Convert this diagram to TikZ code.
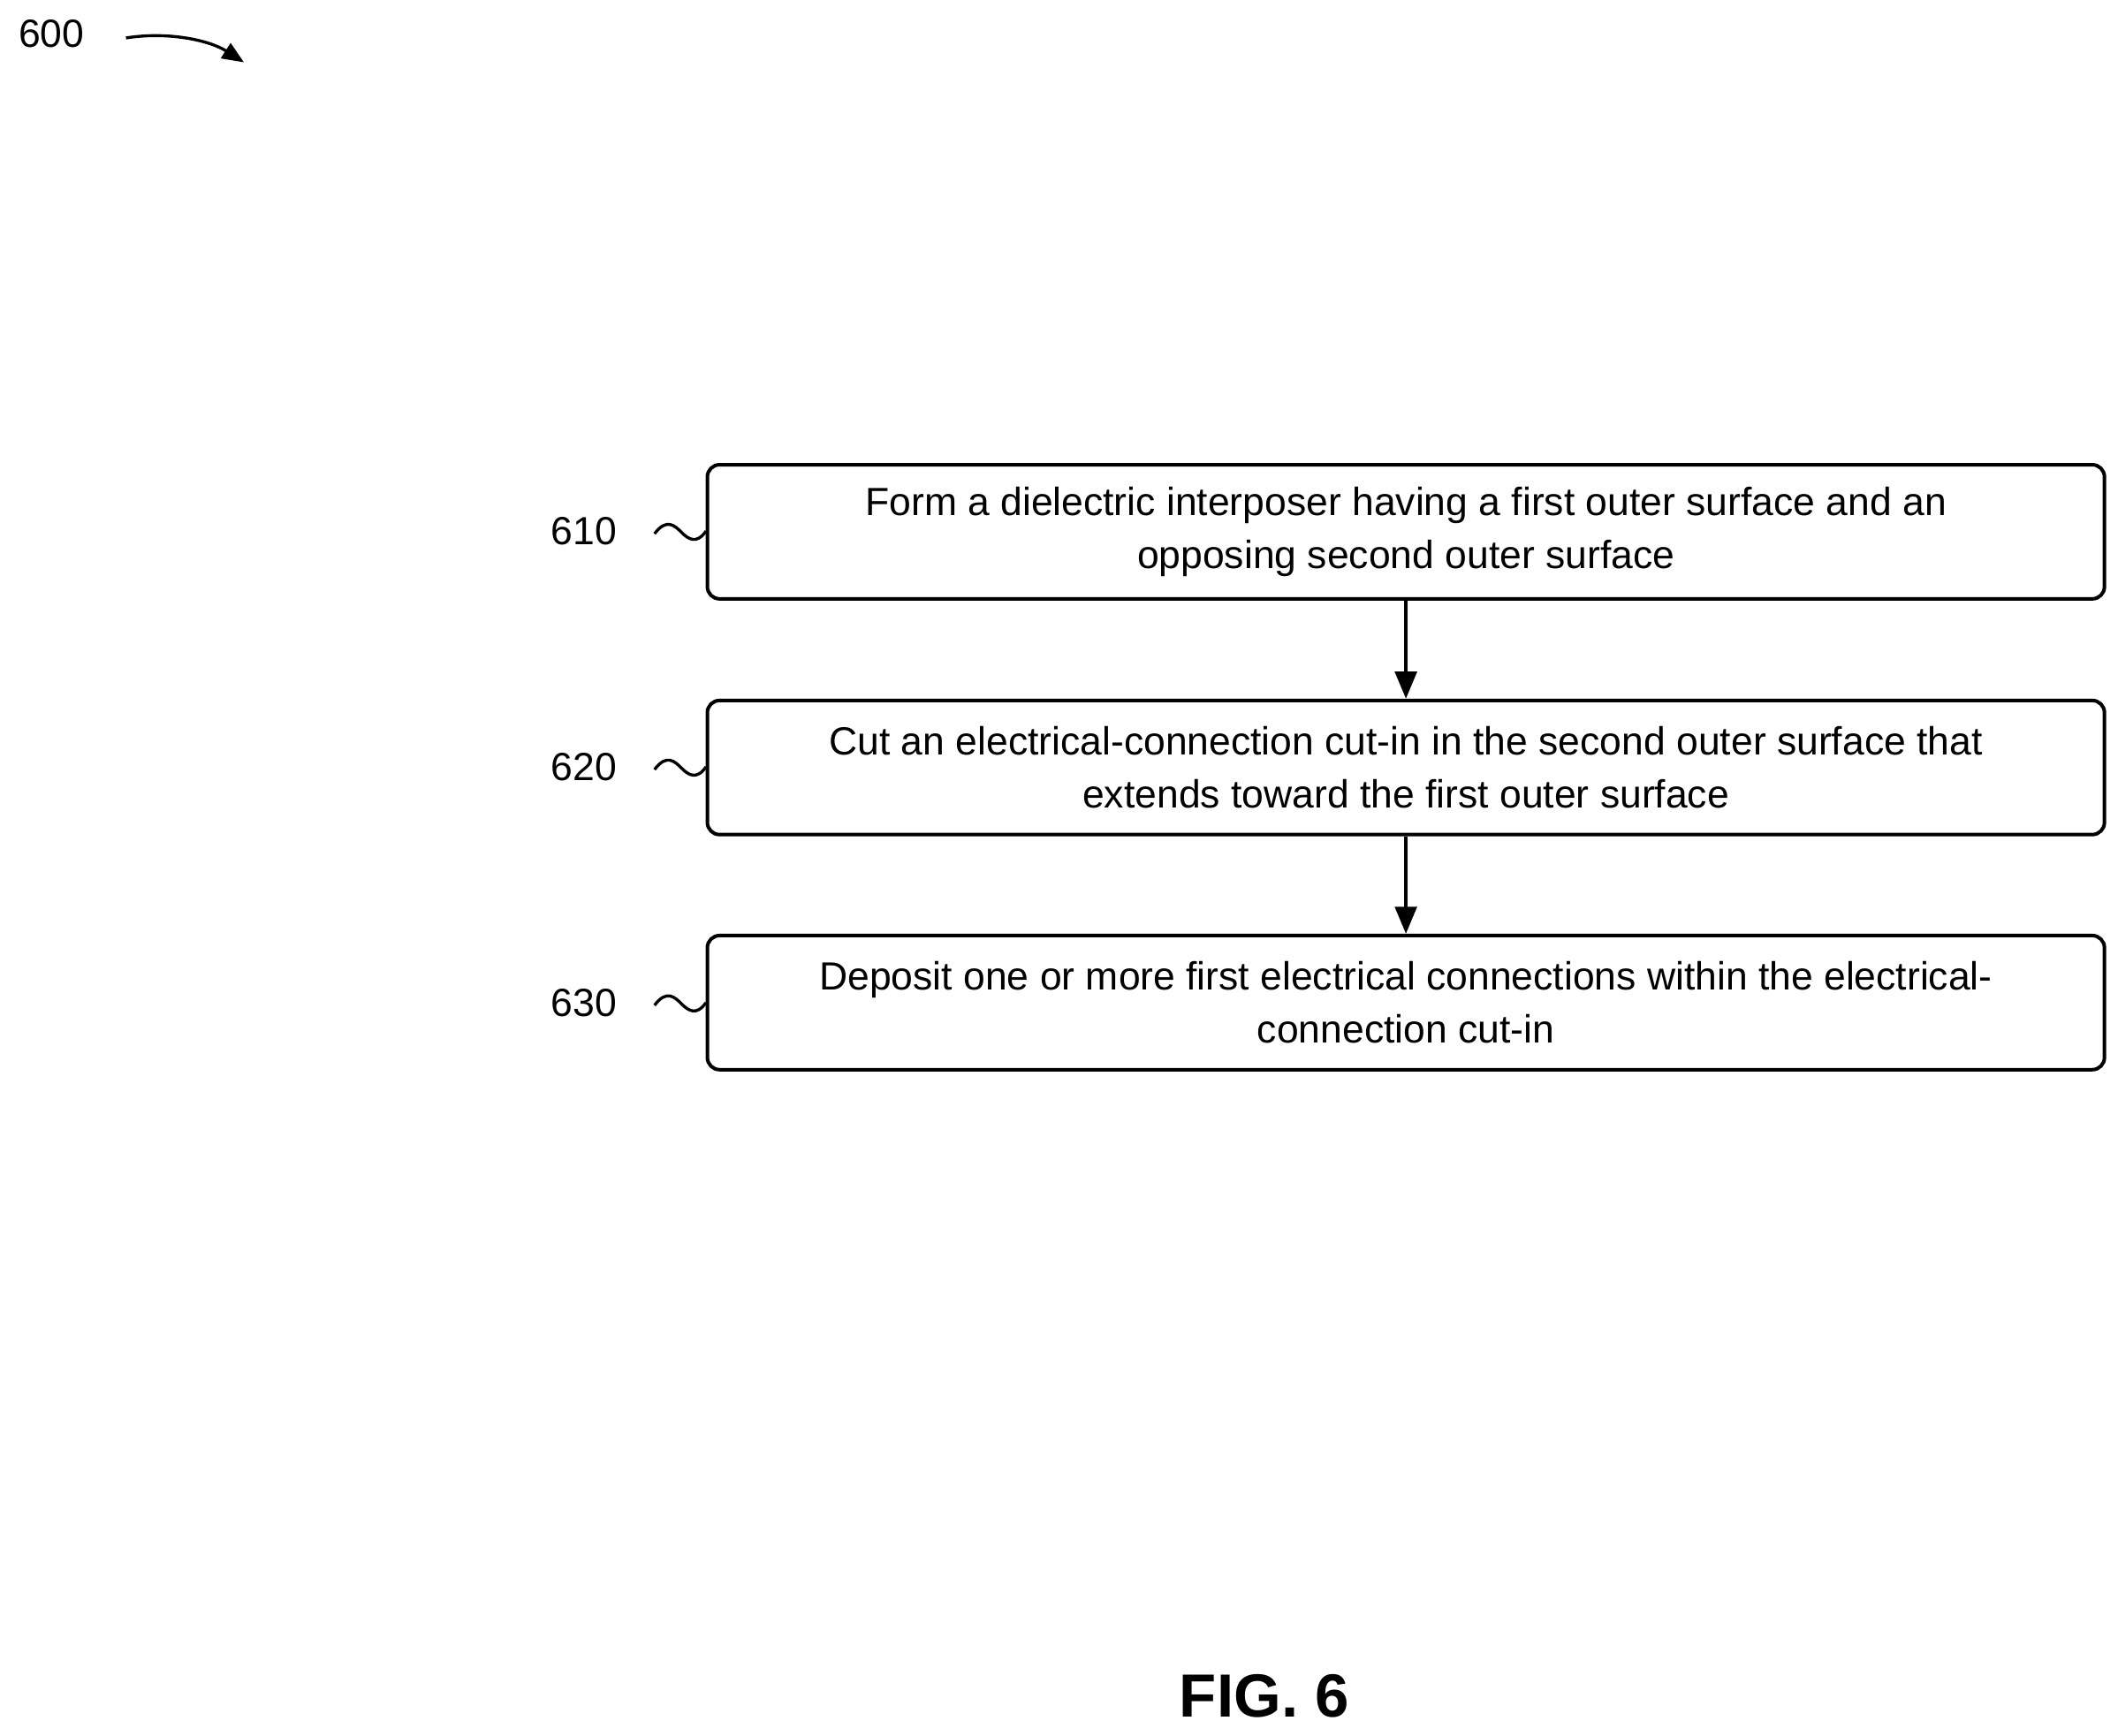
\documentclass[tikz,border=0pt]{standalone}
\usepackage{fontspec}
\setmainfont{Liberation Sans}
\usetikzlibrary{arrows.meta}
\begin{document}
\begin{tikzpicture}[x=1pt,y=-1pt,
  box/.style={draw,line width=2.6pt,rounded corners=9pt,minimum width=1031pt,minimum height=99pt,align=center,font=\fontsize{29}{39}\selectfont,inner sep=0pt},
  lab/.style={font=\fontsize{29}{34}\selectfont},
  arr/.style={line width=2.6pt,-{Triangle[length=20pt,width=16pt]}}]
\useasboundingbox (0,0) rectangle (1563,1281);
\node[box] (b1) at (1037.5,392.5) {Form a dielectric interposer having a first outer surface and an\\opposing second outer surface};
\node[box] (b2) at (1037.5,566.5) {Cut an electrical-connection cut-in in the second outer surface that\\extends toward the first outer surface};
\node[box] (b3) at (1037.5,740) {Deposit one or more first electrical connections within the electrical-\\connection cut-in};
\draw[arr] (b1) -- (b2);
\draw[arr] (b2) -- (b3);
\foreach \n/\t/\y in {l1/610/392,l2/620/566,l3/630/740}{
  \node[lab] (\n) at (431,\y) {\t};
  \draw[line width=2.2pt] (483,\y+2) .. controls (492,\y-10) and (498,\y-4) .. (503,\y+1) .. controls (508,\y+6) and (514,\y+10) .. (521,\y);
}
\node[lab] (n600) at (38,25) {600};
\coordinate (a0) at (93,28);
\coordinate (a1) at (180,46);
\draw[line width=2.2pt,-{Triangle[length=16pt,width=13pt]}] (a0) .. controls (125,23) and (155,30) .. (a1);
\node[font=\bfseries\fontsize{45}{50}\selectfont] (fig) at (933,1252) {FIG. 6};
\end{tikzpicture}
\end{document}
